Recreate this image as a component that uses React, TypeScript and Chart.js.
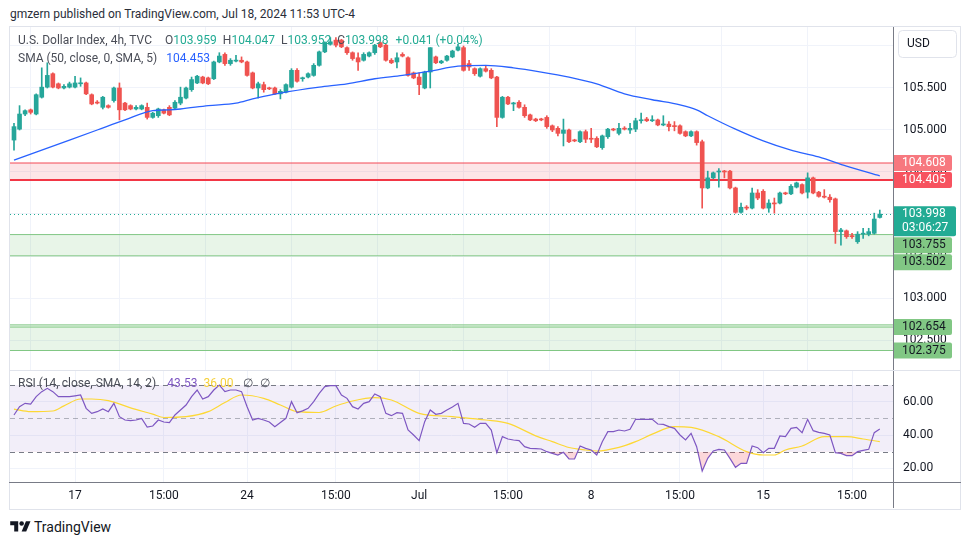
import React, { useEffect, useRef } from 'react';
import { Chart, registerables } from 'chart.js';
Chart.register(...registerables);

const FONT = 'Roboto, "Noto Sans", sans-serif';
const GREEN = '#26a69a';
const RED = '#ef5350';

// ---- 4h candles (TVC:DXY) ----
const opens = [
  104.88, 105.01, 105.19, 105.24, 105.19, 105.39, 105.51, 105.67, 105.55, 105.50,
  105.51, 105.51, 105.55, 105.56, 105.42, 105.33, 105.27, 105.29, 105.35, 105.50,
  105.32, 105.29, 105.25, 105.25, 105.27, 105.15, 105.17, 105.24, 105.27, 105.26,
  105.32, 105.38, 105.48, 105.56, 105.63, 105.62, 105.61, 105.81, 105.90, 105.79,
  105.82, 105.83, 105.81, 105.68, 105.50, 105.54, 105.50, 105.50, 105.43, 105.45,
  105.51, 105.71, 105.61, 105.63, 105.65, 105.77, 105.93, 106.02, 106.07, 106.07,
  105.98, 105.92, 105.86, 105.83, 105.88, 105.92, 106.04, 106.01, 105.83, 105.81,
  105.90, 105.86, 105.68, 105.63, 105.50, 105.69, 105.87, 105.80, 105.83, 105.87,
  105.95, 105.98, 105.79, 105.73, 105.64, 105.73, 105.71, 105.63, 105.15, 105.39,
  105.31, 105.33, 105.27, 105.18, 105.13, 105.13, 105.15, 105.05, 105.02, 104.96,
  105.00, 104.88, 104.86, 104.98, 104.90, 104.90, 104.79, 104.92, 105.01, 104.96,
  105.02, 105.00, 105.01, 105.11, 105.13, 105.11, 105.12, 105.06, 105.07, 105.05,
  105.05, 104.98, 104.93, 104.98, 104.86, 104.31, 104.43, 104.50, 104.51, 104.51,
  104.31, 104.02, 104.08, 104.07, 104.25, 104.27, 104.07, 104.13, 104.13, 104.25,
  104.24, 104.32, 104.35, 104.26, 104.43, 104.26, 104.21, 104.20, 104.18, 103.79,
  103.80, 103.74, 103.67, 103.76, 103.76, 103.77, 103.959,
];
const highs = [
  105.08, 105.29, 105.24, 105.25, 105.43, 105.74, 105.80, 105.68, 105.56, 105.54,
  105.57, 105.64, 105.62, 105.57, 105.43, 105.35, 105.40, 105.30, 105.51, 105.56,
  105.33, 105.30, 105.29, 105.30, 105.32, 105.21, 105.26, 105.25, 105.29, 105.35,
  105.51, 105.51, 105.63, 105.65, 105.64, 105.63, 105.82, 105.92, 105.92, 105.85,
  105.89, 105.87, 105.82, 105.69, 105.57, 105.57, 105.51, 105.51, 105.48, 105.55,
  105.73, 105.73, 105.63, 105.68, 105.79, 105.94, 106.05, 106.10, 106.10, 106.08,
  105.99, 105.93, 105.92, 105.92, 105.93, 106.02, 106.05, 106.02, 105.85, 105.92,
  105.92, 105.87, 105.69, 105.68, 105.70, 105.98, 105.88, 105.83, 105.89, 105.95,
  106.02, 106.00, 105.83, 105.74, 105.74, 105.76, 105.73, 105.64, 105.40, 105.40,
  105.33, 105.35, 105.30, 105.19, 105.14, 105.14, 105.17, 105.06, 105.04, 105.13,
  105.01, 104.89, 104.99, 105.00, 105.02, 104.92, 104.94, 105.02, 105.02, 105.08,
  105.04, 105.08, 105.14, 105.20, 105.15, 105.17, 105.13, 105.17, 105.10, 105.10,
  105.06, 104.99, 104.99, 104.99, 104.88, 104.51, 104.50, 104.54, 104.52, 104.52,
  104.32, 104.13, 104.10, 104.31, 104.29, 104.29, 104.17, 104.19, 104.26, 104.26,
  104.35, 104.38, 104.36, 104.49, 104.44, 104.27, 104.29, 104.23, 104.19, 103.83,
  103.81, 103.77, 103.79, 103.83, 103.83, 104.01, 104.047,
];
const lows = [
  104.76, 105.00, 105.17, 105.19, 105.18, 105.38, 105.50, 105.50, 105.49, 105.49,
  105.50, 105.50, 105.52, 105.42, 105.30, 105.31, 105.25, 105.26, 105.33, 105.12,
  105.23, 105.24, 105.24, 105.24, 105.13, 105.14, 105.15, 105.19, 105.17, 105.25,
  105.30, 105.37, 105.46, 105.55, 105.55, 105.54, 105.60, 105.80, 105.77, 105.77,
  105.81, 105.80, 105.64, 105.49, 105.38, 105.45, 105.48, 105.42, 105.37, 105.44,
  105.50, 105.57, 105.58, 105.62, 105.64, 105.76, 105.92, 106.01, 105.99, 105.98,
  105.90, 105.83, 105.71, 105.82, 105.87, 105.90, 105.98, 105.82, 105.79, 105.74,
  105.87, 105.64, 105.61, 105.42, 105.49, 105.50, 105.79, 105.79, 105.82, 105.86,
  105.94, 105.70, 105.71, 105.65, 105.63, 105.69, 105.61, 105.04, 105.14, 105.30,
  105.23, 105.26, 105.15, 105.11, 105.10, 105.11, 105.02, 104.98, 104.93, 104.81,
  104.85, 104.86, 104.85, 104.85, 104.85, 104.79, 104.77, 104.90, 104.99, 104.94,
  105.00, 104.96, 104.98, 105.08, 105.10, 105.10, 105.05, 105.05, 104.99, 104.99,
  104.95, 104.92, 104.92, 104.82, 104.07, 104.30, 104.42, 104.32, 104.43, 104.30,
  104.01, 104.01, 104.05, 104.06, 104.17, 104.06, 104.02, 104.01, 104.12, 104.23,
  104.23, 104.31, 104.24, 104.19, 104.24, 104.20, 104.19, 104.14, 103.65, 103.63,
  103.71, 103.71, 103.65, 103.71, 103.74, 103.76, 103.952,
];
const closes = [
  105.04, 105.19, 105.23, 105.21, 105.42, 105.51, 105.65, 105.51, 105.50, 105.52,
  105.55, 105.56, 105.56, 105.43, 105.31, 105.32, 105.39, 105.27, 105.50, 105.24,
  105.24, 105.25, 105.27, 105.29, 105.15, 105.20, 105.25, 105.20, 105.18, 105.33,
  105.39, 105.50, 105.60, 105.64, 105.56, 105.55, 105.81, 105.88, 105.79, 105.83,
  105.83, 105.81, 105.65, 105.50, 105.55, 105.48, 105.49, 105.43, 105.46, 105.54,
  105.71, 105.58, 105.62, 105.67, 105.77, 105.93, 106.04, 106.05, 106.01, 105.99,
  105.92, 105.85, 105.81, 105.90, 105.92, 106.01, 105.99, 105.83, 105.80, 105.86,
  105.88, 105.65, 105.62, 105.54, 105.69, 105.98, 105.80, 105.82, 105.88, 105.94,
  105.99, 105.71, 105.75, 105.67, 105.73, 105.70, 105.62, 105.15, 105.39, 105.31,
  105.32, 105.27, 105.17, 105.12, 105.11, 105.12, 105.04, 105.00, 104.96, 105.00,
  104.86, 104.87, 104.98, 104.89, 104.89, 104.80, 104.93, 105.01, 105.00, 105.02,
  105.01, 105.02, 105.11, 105.12, 105.11, 105.12, 105.06, 105.07, 105.04, 105.04,
  104.96, 104.93, 104.98, 104.85, 104.31, 104.43, 104.49, 104.51, 104.50, 104.31,
  104.02, 104.08, 104.07, 104.25, 104.19, 104.07, 104.13, 104.12, 104.25, 104.24,
  104.33, 104.37, 104.25, 104.43, 104.25, 104.21, 104.20, 104.17, 103.79, 103.81,
  103.73, 103.73, 103.76, 103.77, 103.79, 103.94, 103.998,
];

// ---- SMA(50) at sample bars ----
const smaIdx = [0, 5, 10, 15, 20, 25, 28, 30, 35, 40, 43, 45, 48, 55, 60, 65, 70, 75, 80, 85, 90, 95, 100, 105, 110, 115, 120, 123, 125, 130, 135, 140, 145, 150, 156];
const smaVals = [104.64, 104.76, 104.88, 105.0, 105.12, 105.23, 105.24, 105.25, 105.29, 105.32, 105.37, 105.4, 105.44, 105.51, 105.55, 105.61, 105.65, 105.7, 105.76, 105.77, 105.74, 105.69, 105.63, 105.55, 105.43, 105.36, 105.3, 105.24, 105.17, 105.01, 104.87, 104.76, 104.68, 104.57, 104.453];

// ---- RSI(14) per bar ----
const rsiVals = [
  52, 57, 59, 58.6, 63, 66, 68, 66, 63, 63,
  63, 63.5, 64, 56, 53, 54, 55.6, 54, 59, 51,
  49, 48.6, 49, 50, 44.8, 45.4, 49, 47.8, 47.5, 52,
  55, 58, 63, 67, 61.6, 63, 67, 70, 66, 67,
  67, 66, 57, 49, 50, 49, 47.8, 45, 47.5, 50,
  60, 53.4, 54.5, 56, 60, 65, 69, 69.6, 69.6, 64,
  62, 57, 55.6, 59, 60, 64.6, 63, 53, 51.6, 53.4,
  53, 43, 40, 36.6, 48, 55, 52.4, 53, 55, 56.8,
  59, 47, 46.6, 44.6, 47, 47, 43, 29.4, 39, 37.6,
  37, 36.6, 33, 32, 31.8, 31.6, 30, 29, 28, 29.6,
  25.6, 25.6, 33.4, 32, 31, 28, 36, 42, 42, 43,
  42.4, 43.4, 49.4, 49.4, 49.4, 49.4, 46.6, 46.4, 45, 44,
  40, 37, 41, 33, 18.4, 26, 30.4, 31.4, 31, 26,
  20.6, 23, 23, 33.4, 32.4, 29.4, 32, 32, 39.4, 39,
  44, 44.6, 41.4, 49.4, 42.6, 41.6, 41, 40, 29.4, 29,
  27.6, 27.6, 30, 30.8, 31.4, 41.4, 43.53,
];
// ---- RSI-based MA read at sample bars ----
const rsiMaIdx = [0, 3, 7, 9, 12, 14, 17, 21, 25, 27, 31, 35, 38, 41, 45, 48, 51, 55, 58, 61, 65, 68, 73, 79, 85, 89, 94, 97, 100, 103, 105, 109, 112, 115, 119, 122, 127, 132, 135, 137, 139, 142, 146, 150, 153, 156];
const rsiMaVals = [55.5, 54, 54.4, 57.5, 61.6, 61.6, 60.6, 56.3, 52.5, 50.5, 51, 54, 59.5, 64, 62, 58, 54, 53.5, 57.4, 60.4, 62.4, 61, 53, 51, 49, 47, 39.5, 36, 32.5, 31, 30.4, 32.6, 36, 40.5, 45, 44.6, 39, 30, 28, 28, 31, 33.4, 39, 39, 37.6, 36];

// ---- axes ----
const xTickIdx = [11, 27, 42, 58, 73, 89, 104, 120, 135, 151];
const xTickLabels = ['17', '15:00', '24', '15:00', 'Jul', '15:00', '8', '15:00', '15', '15:00'];
const priceTicks = [102.5, 103, 103.5, 104, 104.5, 105, 105.5, 106];
const rsiTicks = [20, 40, 60];
const rsiLevels = [70, 50, 30];

// ---- zones & levels ----
const redZone = [104.608, 104.405];
const greenZone1 = [103.755, 103.502];
const greenZone2 = [102.654, 102.375];
const greenZone2Edge = 102.68;
const lastPrice = 103.998;
const countdown = '03:06:27';
const changeText = '+0.041 (+0.04%)';
const rsiLast = '43.53';
const rsiMaLast = '36.00';

const X_MIN = -0.72;
const X_MAX = 158.38;
const P_MIN = 102.143;
const P_MAX = 106.226;
const R_MIN = 11.8;
const R_MAX = 78.4;

const AXIS_LINE = '#787b86';
const GRID = '#f0f3fa';
const TEXT = '#131722';
const LEGEND = '#4a4d57';
const TEAL = '#22ab94';

function drawSegments(ctx: any, x: number, y: number, segs: [string, string, number][]) {
  let cx = x;
  for (const [t, c, gap] of segs) {
    cx += gap;
    ctx.fillStyle = c;
    ctx.fillText(t, cx, y);
    cx += ctx.measureText(t).width;
  }
}

export default function App() {
  const mainRef = useRef<HTMLCanvasElement>(null);
  const rsiRef = useRef<HTMLCanvasElement>(null);

  useEffect(() => {
    const idx = closes.map((_, i) => i);
    const colors = idx.map((i) => (closes[i] >= opens[i] ? GREEN : RED));
    const last = closes.length - 1;

    const mainPlugin = {
      id: 'mainDeco',
      beforeDatasetsDraw(chart: any) {
        const { ctx, chartArea: a, scales } = chart;
        const y = scales.y;
        ctx.save();
        const hline = (v: number, c: string, w: number) => {
          const yy = y.getPixelForValue(v);
          ctx.strokeStyle = c;
          ctx.lineWidth = w;
          ctx.beginPath();
          ctx.moveTo(a.left, yy);
          ctx.lineTo(a.right, yy);
          ctx.stroke();
        };
        const zone = (top: number, bot: number, fill: string, c1: string, w1: number, c2: string, w2: number) => {
          const y1 = y.getPixelForValue(top);
          const y2 = y.getPixelForValue(bot);
          ctx.fillStyle = fill;
          ctx.fillRect(a.left, y1, a.right - a.left, y2 - y1);
          hline(top, c1, w1);
          hline(bot, c2, w2);
        };
        zone(redZone[0], redZone[1], 'rgba(242,54,69,0.13)', 'rgba(242,54,69,0.6)', 1.5, '#f23645', 2);
        zone(greenZone1[0], greenZone1[1], 'rgba(76,175,80,0.13)', '#81c784', 1, '#81c784', 1);
        zone(greenZone2Edge, greenZone2[1], 'rgba(76,175,80,0.13)', '#81c784', 1, '#81c784', 1);
        hline(greenZone2[0], '#81c784', 1);
        // last price dotted line
        const yp = Math.round(y.getPixelForValue(lastPrice)) + 0.5;
        ctx.strokeStyle = TEAL;
        ctx.lineWidth = 1;
        ctx.setLineDash([1, 3]);
        ctx.beginPath();
        ctx.moveTo(a.left, yp);
        ctx.lineTo(a.right, yp);
        ctx.stroke();
        ctx.restore();
      },
      afterDraw(chart: any) {
        const { ctx, chartArea: a, scales } = chart;
        const y = scales.y;
        ctx.save();
        // axis line
        ctx.strokeStyle = AXIS_LINE;
        ctx.lineWidth = 1;
        ctx.beginPath();
        ctx.moveTo(a.right + 0.5, 0);
        ctx.lineTo(a.right + 0.5, chart.height);
        ctx.stroke();

        // legend
        ctx.font = `12px ${FONT}`;
        ctx.textBaseline = 'middle';
        drawSegments(ctx, 18, 14, [
          ['U.S. Dollar Index, 4h, TVC', LEGEND, 0],
          ['O', LEGEND, 13],
          [opens[last].toFixed(3), TEAL, 0],
          ['H', LEGEND, 6],
          [highs[last].toFixed(3), TEAL, 0],
          ['L', LEGEND, 6],
          [lows[last].toFixed(3), TEAL, 0],
          ['C', LEGEND, 6],
          [closes[last].toFixed(3), TEAL, 0],
          [changeText, TEAL, 7],
        ]);
        drawSegments(ctx, 18, 32, [
          ['SMA (50, close, 0, SMA, 5)', LEGEND, 0],
          [smaVals[smaVals.length - 1].toFixed(3), '#2962ff', 9],
        ]);

        // USD box
        ctx.fillStyle = '#ffffff';
        ctx.strokeStyle = '#e0e3eb';
        ctx.beginPath();
        (ctx as any).roundRect(898.5, 3.5, 58, 27, 4);
        ctx.fill();
        ctx.stroke();
        ctx.fillStyle = TEXT;
        ctx.font = `12px ${FONT}`;
        ctx.fillText('USD', 907, 17);

        // price labels
        const labels = [
          { v: redZone[0], bg: '#f7787f', fg: '#ffffff', sub: '' },
          { v: redZone[1], bg: '#f7525f', fg: '#ffffff', sub: '' },
          { v: lastPrice, bg: TEAL, fg: '#ffffff', sub: countdown },
          { v: greenZone1[0], bg: '#81c784', fg: TEXT, sub: '' },
          { v: greenZone1[1], bg: '#81c784', fg: TEXT, sub: '' },
          { v: greenZone2[0], bg: '#81c784', fg: TEXT, sub: '' },
          { v: greenZone2[1], bg: '#81c784', fg: TEXT, sub: '' },
        ];
        let prevBottom = -1e9;
        for (const l of labels) {
          const py = y.getPixelForValue(l.v);
          const h = l.sub ? 30 : 16;
          let top = py - 8;
          if (top < prevBottom) top = prevBottom;
          prevBottom = top + h + 1;
          ctx.fillStyle = l.bg;
          ctx.beginPath();
          (ctx as any).roundRect(a.right + 1, top, l.sub ? 62 : 58, h, [0, 2, 2, 0]);
          ctx.fill();
          ctx.fillStyle = l.fg;
          ctx.font = `12px ${FONT}`;
          ctx.fillText(l.v.toFixed(3), 902, top + 8);
          if (l.sub) ctx.fillText(l.sub, 902, top + 22);
        }
        ctx.restore();
      },
    };

    const main = new Chart(mainRef.current as HTMLCanvasElement, {
      type: 'bar',
      data: {
        datasets: [
          {
            type: 'line',
            data: smaIdx.map((x, k) => ({ x, y: smaVals[k] })),
            borderColor: '#2962ff',
            borderWidth: 1.3,
            pointRadius: 0,
            cubicInterpolationMode: 'monotone',
            order: 0,
          } as any,
          {
            type: 'bar',
            data: idx.map((i) => ({ x: i, y: [lows[i], highs[i]] })),
            backgroundColor: colors,
            barThickness: 1,
            grouped: false,
            order: 2,
          } as any,
          {
            type: 'bar',
            data: idx.map((i) => ({ x: i, y: [opens[i], closes[i]] })),
            backgroundColor: colors,
            barThickness: 4,
            minBarLength: 1,
            grouped: false,
            order: 1,
          } as any,
        ],
      },
      options: {
        responsive: false,
        animation: false,
        layout: { padding: { left: 10, right: 9, top: 0, bottom: 0 } },
        plugins: { legend: { display: false }, tooltip: { enabled: false } },
        scales: {
          x: {
            type: 'linear',
            min: X_MIN,
            max: X_MAX,
            offset: false,
            afterBuildTicks: (s: any) => {
              s.ticks = xTickIdx.map((v) => ({ value: v }));
            },
            afterFit: (s: any) => {
              s.height = 0;
              s.paddingLeft = 0;
              s.paddingRight = 0;
            },
            ticks: { display: false },
            grid: { color: GRID, drawTicks: false },
            border: { display: false },
          },
          y: {
            type: 'linear',
            position: 'right',
            min: P_MIN,
            max: P_MAX,
            afterBuildTicks: (s: any) => {
              s.ticks = priceTicks.map((v) => ({ value: v }));
            },
            afterFit: (s: any) => {
              s.width = 68;
              s.paddingTop = 0;
              s.paddingBottom = 0;
            },
            ticks: {
              callback: (v: any) => Number(v).toFixed(3),
              color: TEXT,
              font: { size: 12, family: FONT },
              padding: 10,
            },
            grid: { color: GRID, drawTicks: false },
            border: { display: false },
          },
        },
      } as any,
      plugins: [mainPlugin],
    });

    const rsiPlugin = {
      id: 'rsiDeco',
      beforeDatasetsDraw(chart: any) {
        const { ctx, chartArea: a, scales } = chart;
        const y = scales.y;
        ctx.save();
        const y70 = y.getPixelForValue(rsiLevels[0]);
        const y30 = y.getPixelForValue(rsiLevels[2]);
        ctx.fillStyle = 'rgba(126,87,194,0.1)';
        ctx.fillRect(a.left, y70, a.right - a.left, y30 - y70);
        ctx.setLineDash([5, 4]);
        ctx.lineWidth = 1;
        rsiLevels.forEach((lv, k) => {
          const yy = Math.round(y.getPixelForValue(lv)) + 0.5;
          ctx.strokeStyle = k === 1 ? 'rgba(120,123,134,0.55)' : AXIS_LINE;
          ctx.beginPath();
          ctx.moveTo(a.left, yy);
          ctx.lineTo(a.right, yy);
          ctx.stroke();
        });
        ctx.restore();
      },
      afterDraw(chart: any) {
        const { ctx, chartArea: a } = chart;
        ctx.save();
        ctx.strokeStyle = AXIS_LINE;
        ctx.lineWidth = 1;
        ctx.beginPath();
        ctx.moveTo(a.right + 0.5, 0);
        ctx.lineTo(a.right + 0.5, chart.height);
        ctx.moveTo(9, a.bottom + 0.5);
        ctx.lineTo(961, a.bottom + 0.5);
        ctx.stroke();
        ctx.font = `12px ${FONT}`;
        ctx.textBaseline = 'middle';
        drawSegments(ctx, 18, 13, [
          ['RSI (14, close, SMA, 14, 2)', LEGEND, 0],
          [rsiLast, '#7e57c2', 11],
          [rsiMaLast, '#f5d03a', 6],
          ['∅', LEGEND, 9],
          ['∅', LEGEND, 7],
        ]);
        ctx.restore();
      },
    };

    const rsi = new Chart(rsiRef.current as HTMLCanvasElement, {
      type: 'line',
      data: {
        datasets: [
          {
            data: idx.map((i) => ({ x: i, y: rsiVals[i] })),
            borderColor: '#7e57c2',
            borderWidth: 1.2,
            pointRadius: 0,
            fill: { target: { value: 30 }, above: 'rgba(0,0,0,0)', below: 'rgba(242,54,69,0.2)' },
            order: 0,
          } as any,
          {
            data: rsiMaIdx.map((x, k) => ({ x, y: rsiMaVals[k] })),
            borderColor: '#fdd835',
            borderWidth: 1.2,
            pointRadius: 0,
            cubicInterpolationMode: 'monotone',
            fill: false,
            order: 1,
          } as any,
        ],
      },
      options: {
        responsive: false,
        animation: false,
        layout: { padding: { left: 10, right: 9, top: 0, bottom: 0 } },
        plugins: { legend: { display: false }, tooltip: { enabled: false } },
        scales: {
          x: {
            type: 'linear',
            min: X_MIN,
            max: X_MAX,
            afterBuildTicks: (s: any) => {
              s.ticks = xTickIdx.map((v) => ({ value: v }));
            },
            afterFit: (s: any) => {
              s.height = 26;
              s.paddingLeft = 0;
              s.paddingRight = 0;
            },
            ticks: {
              callback: (v: any) => {
                const k = xTickIdx.indexOf(Number(v));
                return k >= 0 ? xTickLabels[k] : '';
              },
              autoSkip: false,
              maxRotation: 0,
              color: TEXT,
              font: { size: 12, family: FONT },
              padding: 7,
            },
            grid: { color: GRID, drawTicks: false },
            border: { display: false },
          },
          y: {
            type: 'linear',
            position: 'right',
            min: R_MIN,
            max: R_MAX,
            afterBuildTicks: (s: any) => {
              s.ticks = rsiTicks.map((v) => ({ value: v }));
            },
            afterFit: (s: any) => {
              s.width = 68;
              s.paddingTop = 0;
              s.paddingBottom = 0;
            },
            ticks: {
              callback: (v: any) => Number(v).toFixed(2),
              color: TEXT,
              font: { size: 12, family: FONT },
              padding: 10,
            },
            grid: { color: GRID, drawTicks: false },
            border: { display: false },
          },
        },
      } as any,
      plugins: [rsiPlugin],
    });

    return () => {
      main.destroy();
      rsi.destroy();
    };
  }, []);

  return (
    <div
      style={{
        position: 'fixed',
        left: 0,
        top: 0,
        width: 970,
        height: 545,
        background: '#ffffff',
        fontFamily: FONT,
        overflow: 'hidden',
      }}
    >
      <div style={{ position: 'absolute', left: 10, top: 5, fontSize: 12, lineHeight: '18px', color: '#2a2e39' }}>
        gmzern published on TradingView.com, Jul 18, 2024 11:53 UTC-4
      </div>
      <div
        style={{
          position: 'absolute',
          left: 9,
          top: 26,
          width: 952,
          height: 484,
          border: '1px solid #e0e3eb',
          boxSizing: 'border-box',
        }}
      />
      <canvas ref={mainRef} width={970} height={343} style={{ position: 'absolute', left: 0, top: 27 }} />
      <div style={{ position: 'absolute', left: 9, top: 370, width: 952, height: 1, background: '#e0e3eb' }} />
      <canvas ref={rsiRef} width={970} height={137} style={{ position: 'absolute', left: 0, top: 371 }} />
      <div style={{ position: 'absolute', left: 10, top: 519, display: 'flex', alignItems: 'center', color: '#131722' }}>
        <svg width="21" height="16" viewBox="0 0 36 28" style={{ marginRight: 3 }}>
          <path d="M14 22H7V11H0V4h14v18z" fill="#131722" />
          <circle cx="20" cy="8" r="4" fill="#131722" />
          <path d="M28 22h-8l7.5-18h8L28 22z" fill="#131722" />
        </svg>
        <span style={{ fontSize: 14, lineHeight: '16px' }}>TradingView</span>
      </div>
    </div>
  );
}
